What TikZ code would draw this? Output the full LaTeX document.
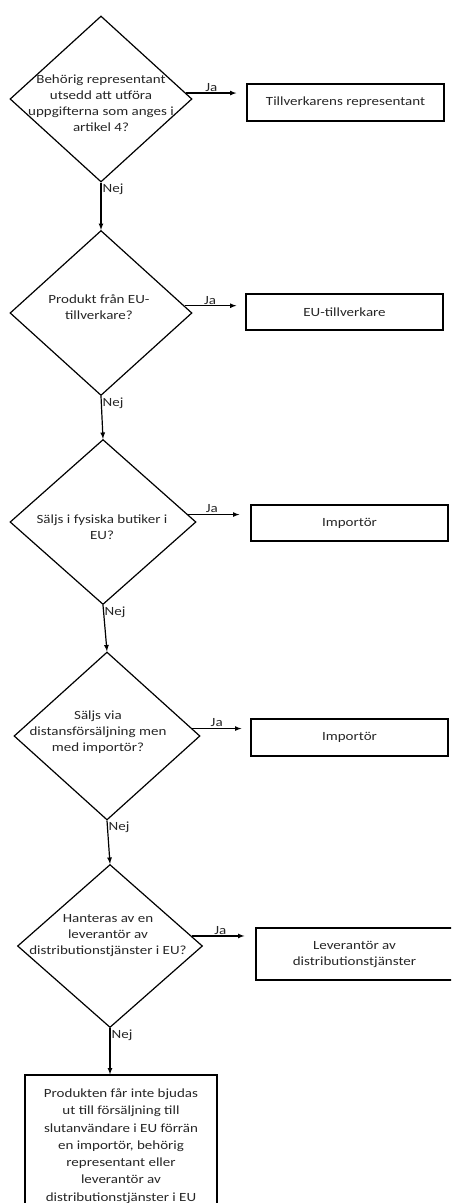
\documentclass[tikz,border=0pt]{standalone}
\usepackage{fontspec}
\setmainfont{Carlito}[FakeStretch=1.2]
\usetikzlibrary{arrows,calc,positioning,shapes.geometric}
\tikzset{%
	decision/.style = {draw, diamond, inner sep=0pt, minimum width=184pt, minimum height=166pt},
	question/.style = {align=center, inner sep=0pt, text=black!85, font=\fontsize{12.5}{16}\selectfont},
	process/.style  = {draw, rectangle, minimum width=197pt, minimum height=37pt, align=center, text=black!85, font=\fontsize{12.5}{16}\selectfont},
	answer/.style   = {inner sep=1pt, text=black!85, font=\fontsize{12.5}{16}\selectfont},
	arrow/.style    = {line width=1.2pt,-latex},
}

\begin{document}
\begin{tikzpicture}[x=1pt,y=-1pt,line width=1.2pt]
		\useasboundingbox (0,0) rectangle (451,1203);
		\clip (0,0) rectangle (451,1203);
		\node[decision, minimum width=182pt] (d1) at (101,99) {};
		\node[question] (q1) at (101,103) {Behörig representant\\utsedd att utföra\\uppgifterna som anges i\\artikel 4?};
		\node[decision, minimum width=182pt, minimum height=165pt] (d2) at (101,313) {};
		\node[question] (q2) at (99,307) {Produkt från EU-\\tillverkare?};
		\node[decision, minimum width=186pt, minimum height=165pt] (d3) at (103,522) {};
		\node[question] (q3) at (102,527) {Säljs i fysiska butiker i\\EU?};
		\node[decision, minimum width=186pt, minimum height=168pt] (d4) at (107,736) {};
		\node[question] (q4) at (98,732) {Säljs via\\distansförsäljning men\\med importör?};
		\node[decision, minimum width=185pt, minimum height=163pt] (d5) at (110,946) {};
		\node[question] (q5) at (108,936) {Hanteras av en\\leverantör av\\distributionstjänster i EU?};
		\node[process] (b1) at (345.5,102.5) {Tillverkarens representant};
		\node[process, minimum height=36pt] (b2) at (344.5,312) {EU-tillverkare};
		\node[process, minimum height=36pt] (b3) at (349.5,523) {Importör};
		\node[process] (b4) at (349.5,737.5) {Importör};
		\node[process, minimum height=52pt] (b5) at (354.5,954) {Leverantör av\\distributionstjänster};
		\node[process, minimum width=192pt, minimum height=142pt, font=\fontsize{12.5}{17.3}\selectfont] (b6) at (121,1146) {Produkten får inte bjudas\\ut till försäljning till\\slutanvändare i EU förrän\\en importör, behörig\\representant eller\\leverantör av\\distributionstjänster i EU};
		\draw[arrow, shorten >=10pt] (d1.4) -- (d1.4 -| b1.west) node[answer, above, pos=0.42] {Ja};
		\draw[arrow, shorten >=9pt] (d2.5) -- (d2.5 -| b2.west) node[answer, above, pos=0.42] {Ja};
		\draw[arrow, shorten >=11pt] (d3.5) -- (d3.5 -| b3.west) node[answer, above, pos=0.38] {Ja};
		\draw[arrow, shorten >=9pt] (d4.5) -- (d4.5 -| b4.west) node[answer, above, pos=0.42] {Ja};
		\draw[arrow, shorten >=11pt] (d5.7) -- (d5.7 -| b5.west) node[answer, above, pos=0.45] {Ja};
		\draw[arrow] (d1.south) -- (d2.north) node[answer, below right, pos=0] {Nej};
		\draw[arrow] (d2.south) -- (d3.north) node[answer, below right, pos=0] {Nej};
		\draw[arrow] (d3.south) -- (d4.north) node[answer, below right, pos=0] {Nej};
		\draw[arrow] (d4.south) -- (d5.north) node[answer, below right, pos=0] {Nej};
		\draw[arrow] (d5.south) -- (d5.south |- b6.north) node[answer, below right, pos=0] {Nej};
\end{tikzpicture}
\end{document}
